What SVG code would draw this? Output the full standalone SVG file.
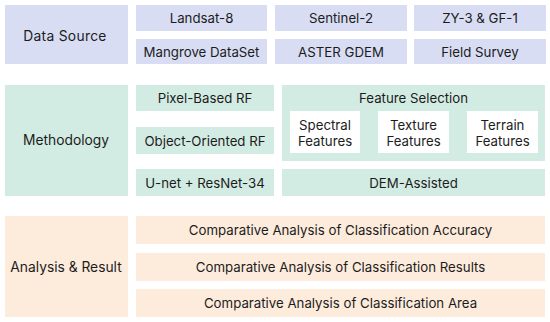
<svg xmlns="http://www.w3.org/2000/svg" width="550" height="322" viewBox="0 0 550 322">
<style>
text{font-family:Inter,"Noto Sans","Liberation Sans",sans-serif;font-size:13.25px;fill:#1c1c1c;text-anchor:middle;dominant-baseline:central}
text.c{font-size:13.8px}
.b{fill:#d8ddf4}.g{fill:#d3ece3}.o{fill:#fdecdc}.w{fill:#ffffff}
</style>
<rect width="550" height="322" fill="#ffffff"/>
<g id="data-source"><rect class="b" x="5" y="5" width="123" height="59"/><text class="c" x="65" y="35.5" style="letter-spacing:0.3px">Data Source</text></g>
<g id="landsat8"><rect class="b" x="136" y="5" width="131" height="26"/><text x="201.5" y="18">Landsat-8</text></g>
<g id="sentinel2"><rect class="b" x="275" y="5" width="132" height="26"/><text x="341" y="18">Sentinel-2</text></g>
<g id="zy3"><rect class="b" x="414" y="5" width="132" height="26"/><text x="480" y="18">ZY-3 &amp; GF-1</text></g>
<g id="mangrove"><rect class="b" x="136" y="39" width="131" height="25"/><text x="201.5" y="52">Mangrove DataSet</text></g>
<g id="aster"><rect class="b" x="275" y="39" width="132" height="25"/><text x="341" y="52">ASTER GDEM</text></g>
<g id="field"><rect class="b" x="414" y="39" width="132" height="25"/><text x="480" y="52">Field Survey</text></g>
<g id="methodology"><rect class="g" x="5" y="85" width="123" height="111"/><text class="c" x="66" y="140">Methodology</text></g>
<g id="pixel-rf"><rect class="g" x="136" y="85" width="138" height="26"/><text x="205" y="98">Pixel-Based RF</text></g>
<g id="object-rf"><rect class="g" x="136" y="127" width="138" height="27"/><text x="205" y="140.5">Object-Oriented RF</text></g>
<g id="unet"><rect class="g" x="136" y="169" width="138" height="27"/><text x="205" y="182.5">U-net + ResNet-34</text></g>
<g id="feature-selection"><rect class="g" x="282" y="85" width="263" height="76"/><text x="413.5" y="98">Feature Selection</text>
<rect class="w" x="290" y="111" width="70" height="42"/><text x="325" y="124.5">Spectral</text><text x="325" y="140.5">Features</text>
<rect class="w" x="378" y="111" width="71" height="42"/><text x="413.5" y="124.5">Texture</text><text x="413.5" y="140.5">Features</text>
<rect class="w" x="467" y="111" width="71" height="42"/><text x="502.5" y="124.5">Terrain</text><text x="502.5" y="140.5">Features</text></g>
<g id="dem"><rect class="g" x="282" y="169" width="263" height="27"/><text x="413.5" y="182.5">DEM-Assisted</text></g>
<g id="analysis"><rect class="o" x="5" y="216" width="123" height="101"/><text class="c" x="66" y="266.5">Analysis &amp; Result</text></g>
<g id="accuracy"><rect class="o" x="136" y="216" width="409" height="28"/><text x="340.5" y="230">Comparative Analysis of Classification Accuracy</text></g>
<g id="results"><rect class="o" x="136" y="253" width="409" height="28"/><text x="340.5" y="267">Comparative Analysis of Classification Results</text></g>
<g id="area"><rect class="o" x="136" y="289" width="409" height="28"/><text x="340.5" y="303">Comparative Analysis of Classification Area</text></g>
<g id="connectors"/>
</svg>
